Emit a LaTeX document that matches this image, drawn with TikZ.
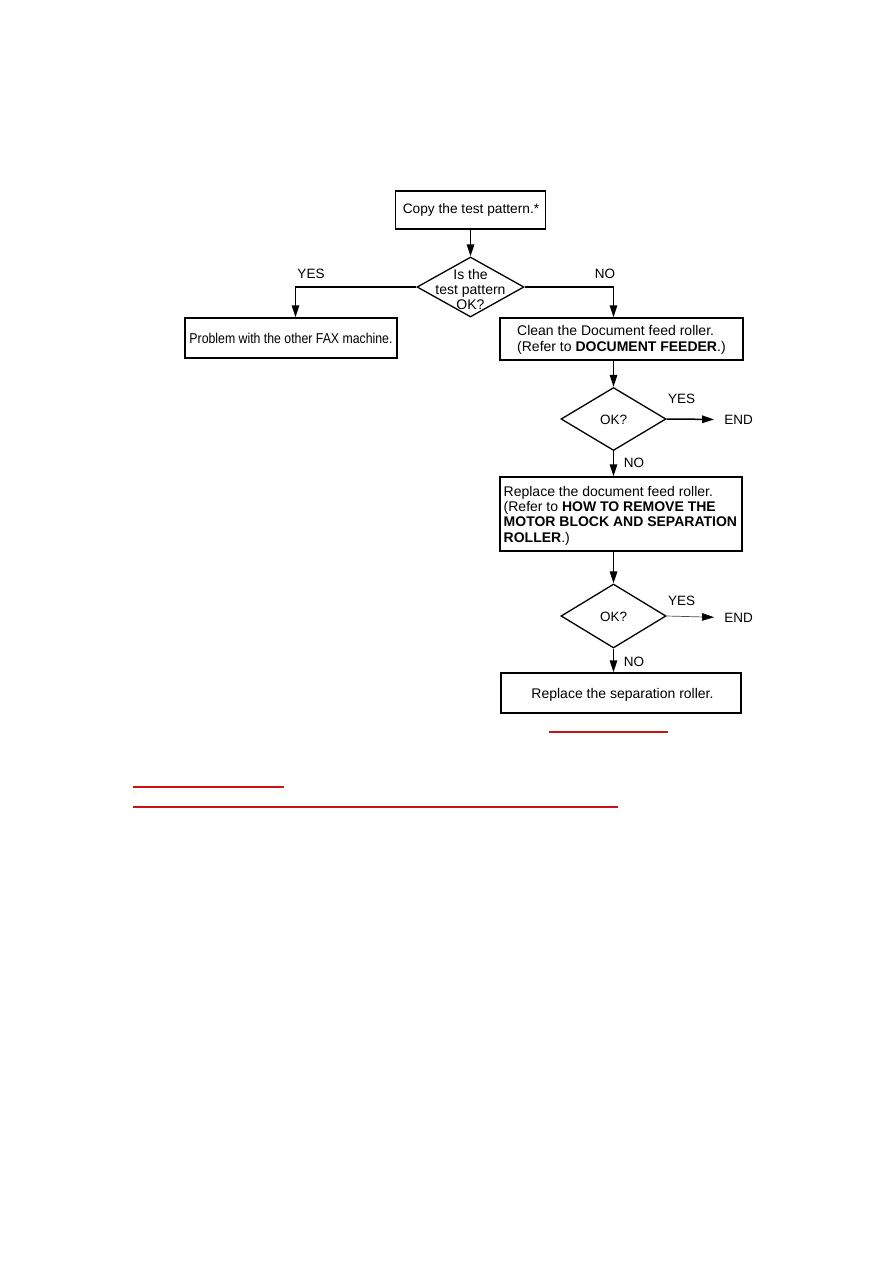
\documentclass[tikz,border=0pt]{standalone}
\usepackage{fontspec}
\setmainfont{Liberation Sans}
\newfontfamily\condfont[FakeStretch=0.86]{Liberation Sans}
\usetikzlibrary{shapes.geometric,arrows.meta}
\definecolor{linkred}{RGB}{200,20,20}
\begin{document}
\begin{tikzpicture}[x=1pt,y=-1pt,
  box/.style={draw,line width=1.5pt,inner sep=0pt},
  dia/.style={draw,diamond,line width=1.3pt,inner sep=0pt},
  arr/.style={line width=1.5pt,-{Triangle[length=12pt,width=7.5pt]}},
  thinarr/.style={line width=0.7pt,draw=black!70,-{Triangle[length=12pt,width=7.5pt,color=black,fill=black]}},
  lbl/.style={font=\fontsize{13.5}{15}\selectfont,inner sep=0pt},
  txt/.style={font=\fontsize{14}{15.5}\selectfont,inner sep=0pt,align=left},
  ctxt/.style={font=\fontsize{14}{15}\selectfont,inner sep=0pt,align=center},
]
\useasboundingbox (0,0) rectangle (893,1263);
% boxes
\node[box,minimum width=150pt,minimum height=38pt] (b1) at (470.5,210) {};
\node[ctxt,font=\fontsize{13.7}{15}\selectfont] (t1) at (471,210) {Copy the test pattern.*};
\node[dia,minimum width=107pt,minimum height=60pt] (d1) at (470.5,287) {};
\node[ctxt] (td1) at (470.5,289) {Is the\\test pattern\\OK?};
\node[box,minimum width=212pt,minimum height=40pt] (b2) at (291,338) {};
\node[inner sep=0pt,font=\condfont\fontsize{14.3}{15}\selectfont] (t2) at (291,338.5) {Problem with the other FAX machine.};
\node[box,minimum width=243pt,minimum height=42pt] (b3) at (621.5,339) {};
\node[txt,anchor=west] (t3) at (517,340) {Clean the Document feed roller.\\(Refer to \textbf{DOCUMENT FEEDER}.)};
\node[dia,minimum width=105pt,minimum height=63pt] (d2) at (613.5,419) {};
\node[lbl] (td2) at (613.5,419.5) {OK?};
\node[lbl] (end1) at (738.5,419.5) {END};
\node[box,minimum width=242pt,minimum height=74pt] (b4) at (621,514) {};
\node[txt,anchor=west,font=\fontsize{14}{15.4}\selectfont] (t4) at (503.5,515.5) {Replace the document feed roller.\\(Refer to \textbf{HOW TO REMOVE THE}\\\textbf{MOTOR BLOCK AND SEPARATION}\\\textbf{ROLLER}.)};
\node[dia,minimum width=105pt,minimum height=64pt] (d3) at (613.5,616) {};
\node[lbl] (td3) at (613.5,617) {OK?};
\node[lbl] (end2) at (738.5,617.5) {END};
\node[box,minimum width=240pt,minimum height=40pt] (b5) at (621,693) {};
\node[ctxt] (t5) at (622.5,695) {Replace the separation roller.};
% labels
\node[lbl] (yes1) at (311,274) {YES};
\node[lbl] (no1) at (605,274) {NO};
\node[lbl] (yes2) at (681.5,399) {YES};
\node[lbl] (no2) at (634,462.5) {NO};
\node[lbl] (yes3) at (681.5,601) {YES};
\node[lbl] (no3) at (634,661.5) {NO};
% connectors
\draw[arr] (b1.south) -- (d1.north);
\draw[arr] (d1.west) -| ([xshift=4.5pt]b2.north);
\draw[arr] (d1.east) -| (b3.north -| d2.north);
\draw[arr] (b3.south -| d2.north) -- (d2.north);
\draw[arr,shorten >=10pt] (d2.east) -- (end1.west);
\draw[arr] (d2.south) -- (d2.south |- b4.north);
\draw[arr] (b4.south -| d3.north) -- (d3.north);
\draw[thinarr,shorten >=10pt] (d3.east) -- (end2.west);
\draw[arr] (d3.south) -- (d3.south |- b5.north);
% red link underlines
\draw[linkred,line width=1.3pt] (549,732) -- (668,732);
\draw[linkred,line width=1.3pt] (133,787) -- (284,787);
\draw[linkred,line width=1.3pt] (133,807) -- (618,807);
\end{tikzpicture}
\end{document}
